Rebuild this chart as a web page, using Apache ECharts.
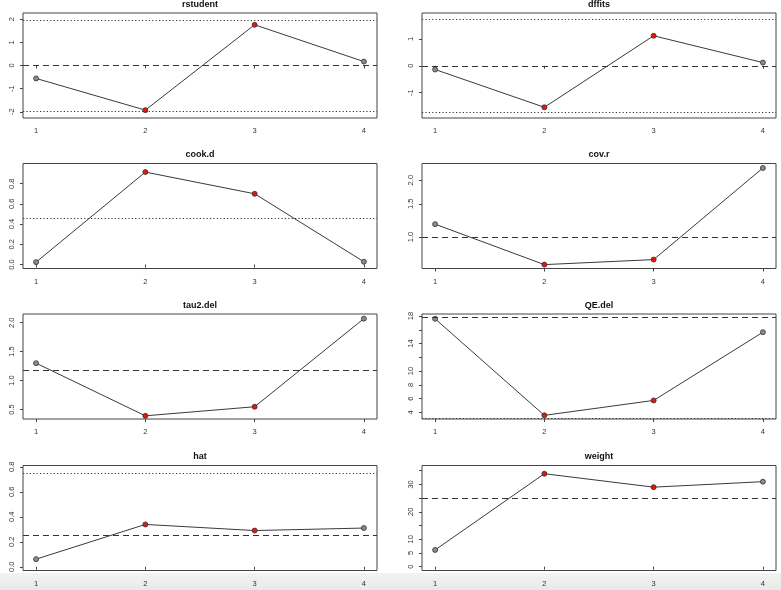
<!DOCTYPE html>
<html>
<head>
<meta charset="utf-8">
<script src="https://cdn.jsdelivr.net/npm/echarts@6/dist/echarts.min.js"></script>
<style>html,body{margin:0;padding:0;background:#fff}#c{width:781px;height:590px}</style>
</head>
<body>
<div id="c"></div>
<script>
// ---- data ----
const studies = [1, 2, 3, 4];
const titles = ['rstudent', 'dffits', 'cook.d', 'cov.r', 'tau2.del', 'QE.del', 'hat', 'weight'];
const rstudent = [-0.56, -1.93, 1.76, 0.17];
const dffits = [-0.14, -1.55, 1.12, 0.12];
const cookD = [0.023, 0.915, 0.70, 0.027];
const covR = [1.17, 0.715, 0.76, 2.32];
const tau2Del = [1.30, 0.39, 0.547, 2.07];
const qeDel = [17.6, 3.57, 5.74, 15.65];
const hat = [0.061, 0.339, 0.290, 0.310];
const weight = [6.1, 33.9, 29.0, 31.0];
const influential = [false, true, true, false];
// reference lines: [value, style]
const refLines = [
  [[1.96, 'dotted'], [-1.96, 'dotted'], [0, 'dashed']],
  [[1.732, 'dotted'], [-1.732, 'dotted'], [0, 'dashed']],
  [[0.455, 'dotted']],
  [[1, 'dashed']],
  [[1.167, 'dashed']],
  [[17.9, 'dashed'], [3.12, 'dotted']],
  [[0.25, 'dashed'], [0.75, 'dotted']],
  [[25, 'dashed']]
];
const yRanges = [[-2.27, 2.27], [-1.95, 1.97], [-0.04, 1.0], [0.682, 2.45], [0.335, 2.15], [3.04, 18.3], [-0.03, 0.811], [-1.4, 36.9]];
const yTickValues = [
  [-2, -1, 0, 1, 2], [-1, 0, 1], [0, 0.2, 0.4, 0.6, 0.8], [1, 1.5, 2],
  [0.5, 1, 1.5, 2], [4, 6, 8, 10, 12, 14, 16, 18], [0, 0.2, 0.4, 0.6, 0.8], [0, 5, 10, 15, 20, 25, 30, 35]
];
const yLabelValues = [
  [-2, -1, 0, 1, 2], [-1, 0, 1], [0, 0.2, 0.4, 0.6, 0.8], [1, 1.5, 2],
  [0.5, 1, 1.5, 2], [4, 6, 8, 10, 14, 18], [0, 0.2, 0.4, 0.6, 0.8], [0, 5, 10, 20, 30]
];
const yDecimals = [0, 0, 1, 1, 1, 0, 1, 0];
const logY = [false, false, false, true, false, false, false, false];

const values = [rstudent, dffits, cookD, covR, tau2Del, qeDel, hat, weight];

// ---- layout ----
const colLeft = [23, 422];
const rowTop = [13, 163.5, 314, 465.5];
const W = 354, H = 105;
const FONT = "'Liberation Sans', Arial, sans-serif";
const dash = [6, 4], dot = [1.2, 2.2];

const grids = [], xAxes = [], yAxes = [], series = [], graphics = [];
graphics.push({type: 'rect', z: -10, shape: {x: 0, y: 573, width: 781, height: 17},
  style: {fill: new echarts.graphic.LinearGradient(0, 0, 0, 1, [{offset: 0, color: '#f3f3f3'}, {offset: 1, color: '#e9e9e9'}])}});

values.forEach((vals, i) => {
  const left = colLeft[i % 2], top = rowTop[Math.floor(i / 2)];
  grids.push({left: left, top: top, width: W, height: H, show: true, borderColor: '#444', borderWidth: 1, backgroundColor: 'transparent'});
  xAxes.push({
    type: 'value', gridIndex: i, min: 0.88, max: 4.12,
    axisLine: {show: false}, splitLine: {show: false},
    axisTick: {show: true, length: 3, customValues: studies, lineStyle: {color: '#444'}},
    axisLabel: {customValues: studies, margin: 9, fontSize: 7.5, color: '#333', fontFamily: FONT}
  });
  yAxes.push({
    type: logY[i] ? 'log' : 'value', logBase: 10, gridIndex: i, min: yRanges[i][0], max: yRanges[i][1],
    axisLine: {show: false}, splitLine: {show: false},
    axisTick: {show: true, length: 3, customValues: yTickValues[i], lineStyle: {color: '#444'}},
    axisLabel: {customValues: yLabelValues[i], rotate: 90, margin: 7, fontSize: 7.5, color: '#333', fontFamily: FONT,
      formatter: v => Number(v).toFixed(yDecimals[i])}
  });
  series.push({
    type: 'line', xAxisIndex: i, yAxisIndex: i,
    data: vals.map((v, j) => ({value: [studies[j], v], itemStyle: {color: influential[j] ? '#e3170a' : '#8a8a8a'}})),
    symbol: 'circle', symbolSize: 5,
    lineStyle: {color: '#3a3a3a', width: 1},
    itemStyle: {borderColor: '#333', borderWidth: 0.8},
    z: 3,
    markLine: {
      silent: true, symbol: ['none', 'none'], label: {show: false}, animation: false,
      data: refLines[i].map(r => ({yAxis: r[0], lineStyle: {type: r[1] === 'dashed' ? dash : dot, color: '#333', width: 1}}))
    }
  });
  graphics.push({type: 'text', x: left + W / 2, y: top - 8.5,
    style: {text: titles[i], font: "bold 9px " + FONT, fill: '#111', textAlign: 'center', textVerticalAlign: 'middle'}});
});

const chart = echarts.init(document.getElementById('c'), null, {renderer: 'canvas'});
chart.setOption({
  animation: false,
  backgroundColor: '#fff',
  grid: grids, xAxis: xAxes, yAxis: yAxes, series: series,
  graphic: graphics
});
</script>
</body>
</html>
